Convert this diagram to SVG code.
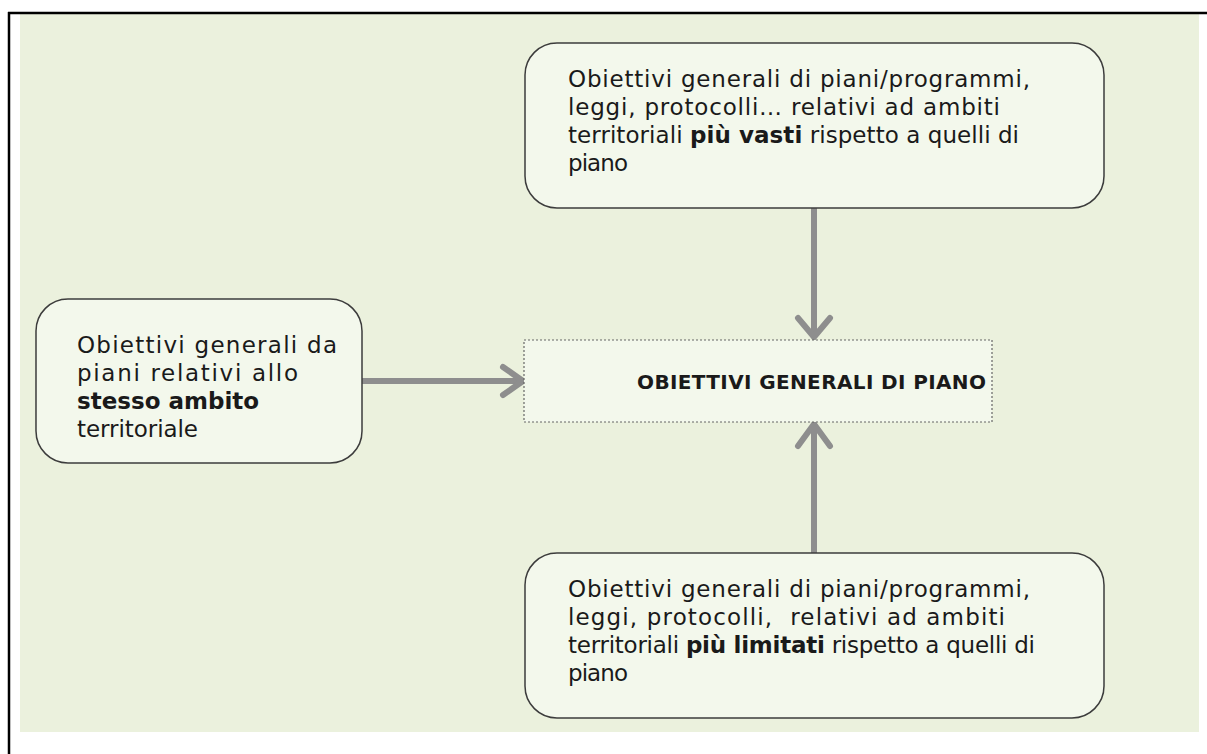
<svg xmlns="http://www.w3.org/2000/svg" width="1207" height="754" viewBox="0 0 1207 754">
<defs>
<style>
.bg{fill:#EBF1DD}
.box{fill:#F3F8EC;stroke:#3C3C3C;stroke-width:1.5}
.center{fill:#F3F8EC;stroke:#666;stroke-width:1.2;stroke-dasharray:2 2}
.t{font-family:"DejaVu Sans","Liberation Sans",sans-serif;font-size:23px;fill:#1A1A1A}
.b{font-weight:bold}
.title{font-family:"DejaVu Sans","Liberation Sans",sans-serif;font-size:20px;font-weight:bold;fill:#1A1A1A}
.conn{stroke:#8E8E8E;stroke-width:6;fill:none;stroke-linecap:butt}
.head{stroke:#8E8E8E;stroke-width:6;fill:none;stroke-linecap:round;stroke-linejoin:miter}
</style>
</defs>
<rect x="0" y="0" width="1207" height="754" fill="#FFFFFF"/>
<rect class="bg" x="20" y="14" width="1179" height="718"/>
<line x1="9" y1="12" x2="9" y2="754" stroke="#000" stroke-width="2.5"/>
<line x1="8" y1="13" x2="1207" y2="13" stroke="#000" stroke-width="2.5"/>

<g id="connectors">
  <line class="conn" x1="814" y1="207" x2="814" y2="334"/>
  <polyline class="head" points="798,318 814,337 830,318"/>
  <line class="conn" x1="362" y1="381" x2="520" y2="381"/>
  <polyline class="head" points="503,367 523,381 503,395"/>
  <line class="conn" x1="814" y1="553" x2="814" y2="427"/>
  <polyline class="head" points="798,446 814,424 830,446"/>
</g>

<g id="node-top">
  <rect class="box" x="525" y="43" width="579" height="165" rx="32" ry="32"/>
  <text class="t" x="568" y="87" textLength="462">Obiettivi generali di piani/programmi,</text>
  <text class="t" x="568" y="115" textLength="432">leggi, protocolli… relativi ad ambiti</text>
  <text class="t" x="568" y="143" textLength="451">territoriali <tspan class="b">più vasti</tspan> rispetto a quelli di</text>
  <text class="t" x="568" y="171" textLength="60">piano</text>
</g>

<g id="node-left">
  <rect class="box" x="36" y="299" width="326" height="164" rx="32" ry="32"/>
  <text class="t" x="77" y="353" textLength="260">Obiettivi generali da</text>
  <text class="t" x="77" y="381" textLength="221">piani relativi allo</text>
  <text class="t b" x="77" y="409">stesso ambito</text>
  <text class="t" x="77" y="437" textLength="121">territoriale</text>
</g>

<g id="node-center">
  <rect class="center" x="524" y="340" width="468" height="82"/>
  <text class="title" x="637" y="389" textLength="349">OBIETTIVI GENERALI DI PIANO</text>
</g>

<g id="node-bottom">
  <rect class="box" x="525" y="553" width="579" height="165" rx="32" ry="32"/>
  <text class="t" x="568" y="597" textLength="462">Obiettivi generali di piani/programmi,</text>
  <text class="t" x="568" y="625" textLength="437" xml:space="preserve">leggi, protocolli,  relativi ad ambiti</text>
  <text class="t" x="568" y="653" textLength="467">territoriali <tspan class="b">più limitati</tspan> rispetto a quelli di</text>
  <text class="t" x="568" y="681" textLength="60">piano</text>
</g>
</svg>
